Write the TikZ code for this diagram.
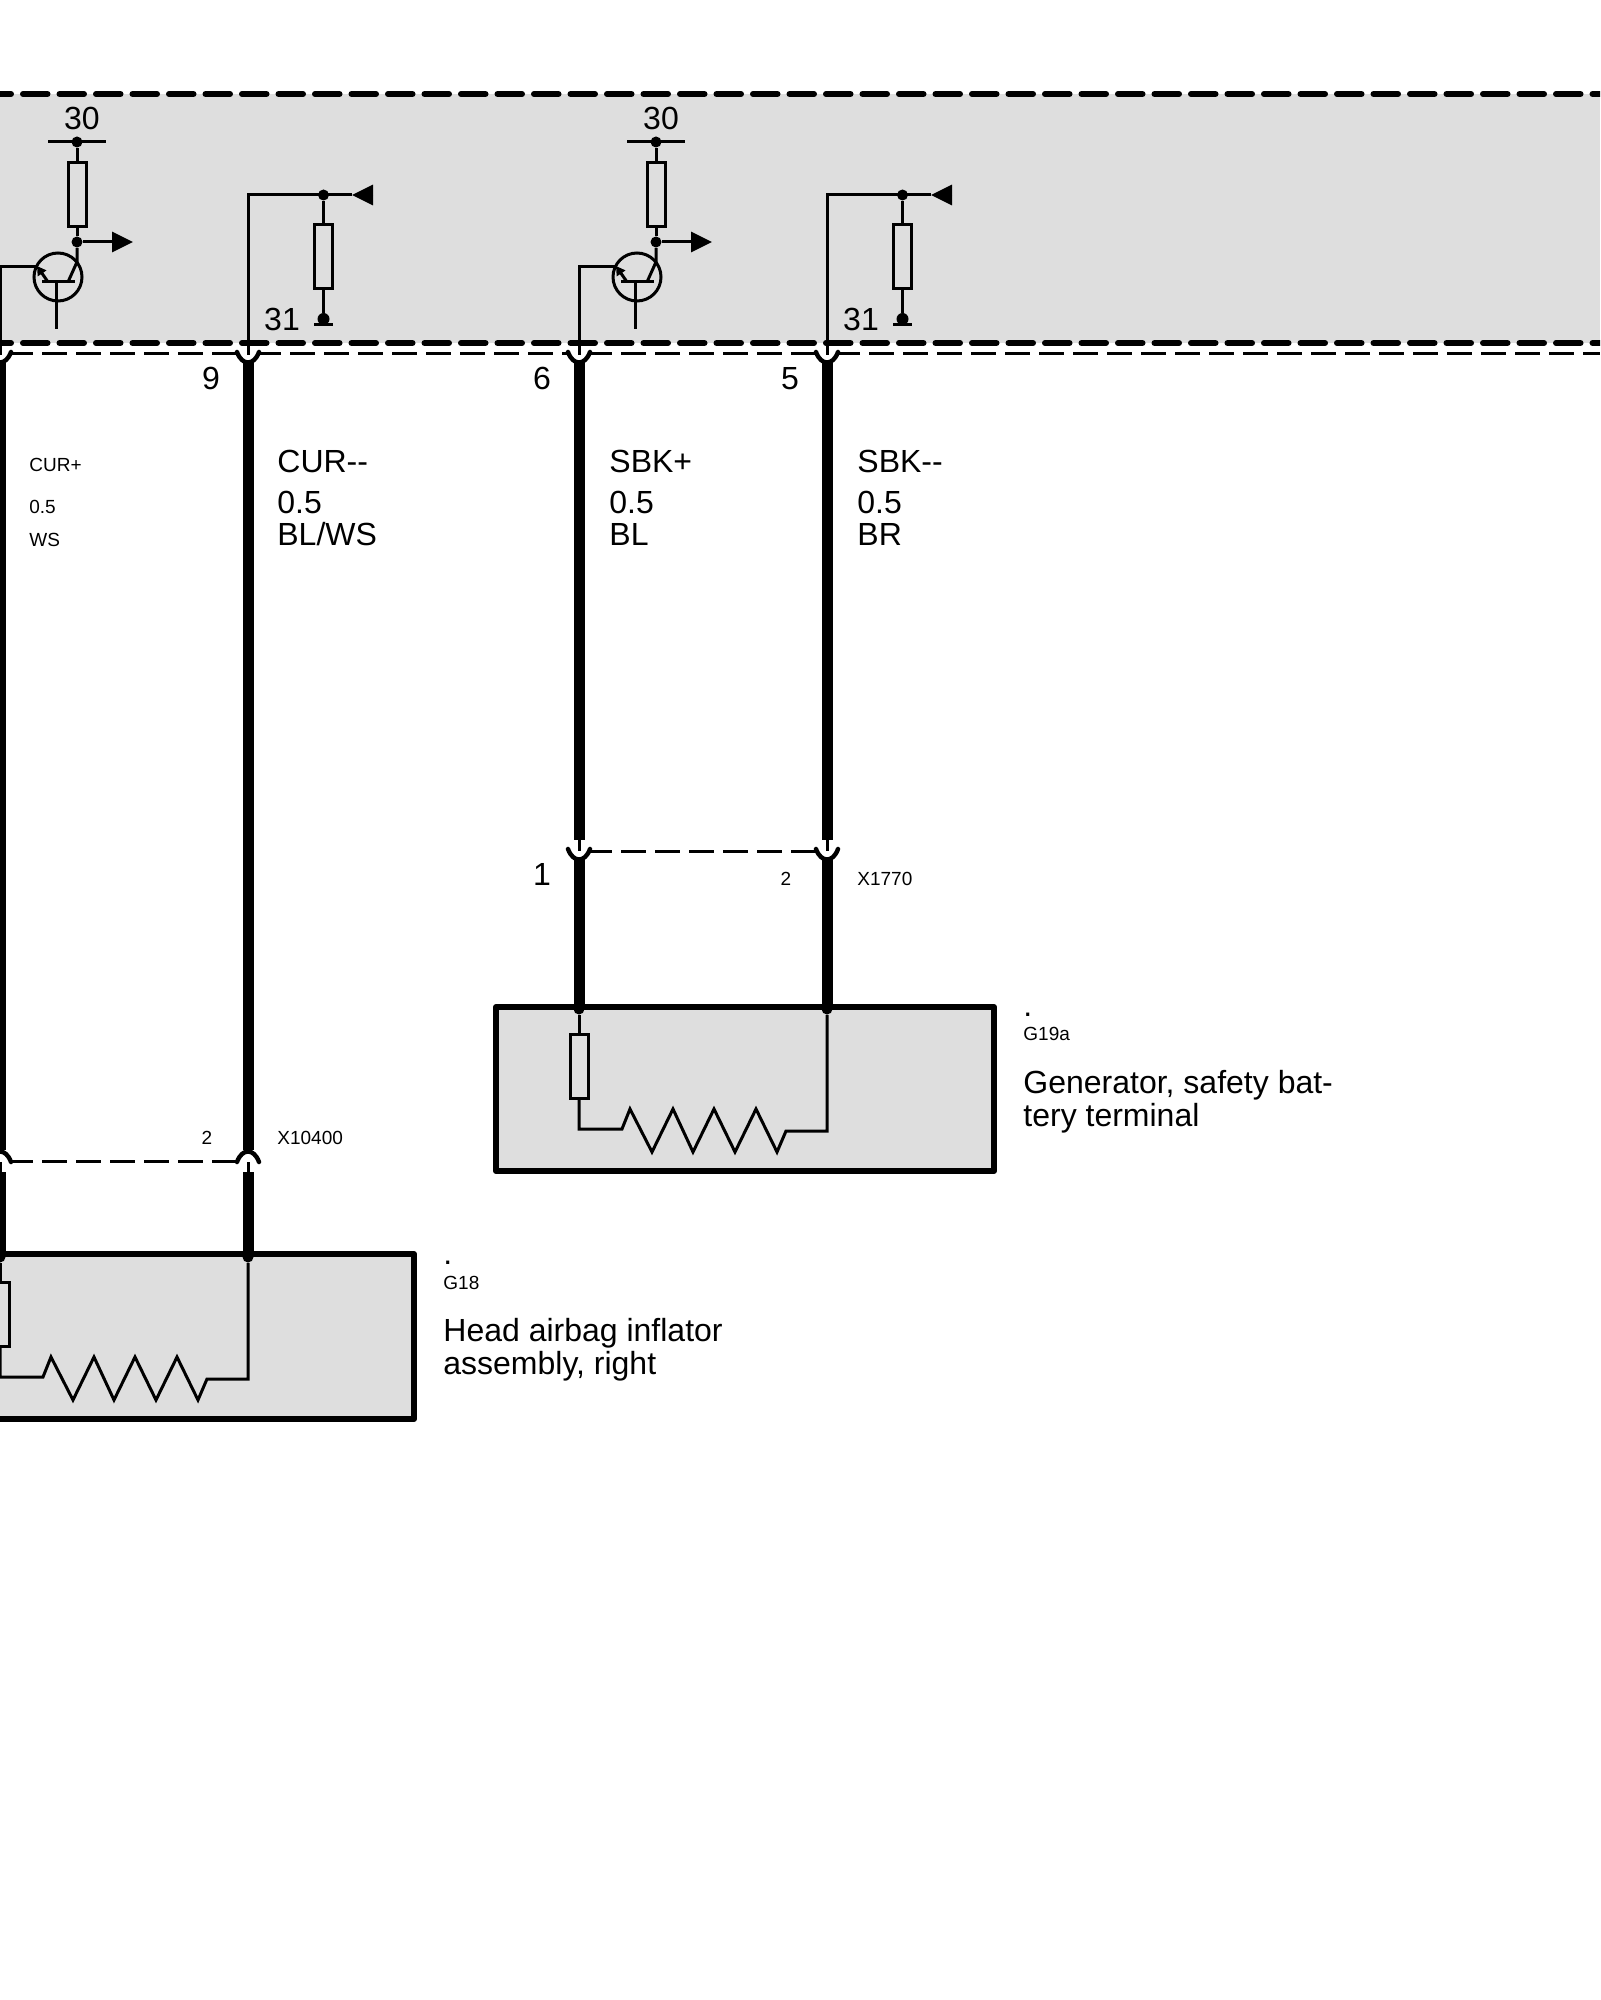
\documentclass[tikz,border=0pt]{standalone}
\usepackage{fontspec}
\setmainfont{Liberation Sans}
\usetikzlibrary{arrows.meta}
\definecolor{panelgray}{HTML}{DEDEDE}
\tikzset{
  wire/.style={line width=1.5pt,line join=miter},
  thickwire/.style={line width=5.5pt},
  pinarc/.style={line width=2.2pt,line cap=round},
  busline/.style={line width=3pt,line cap=round,dash pattern=on 12.25pt off 6pt,dash phase=6.75pt},
  plugline/.style={line width=1.5pt,dash pattern=on 12.5pt off 4.5pt,dash phase=2pt},
  devbox/.style={fill=panelgray,draw=black,line width=3pt,line join=round},
  res/.style={draw=black,fill=panelgray,line width=1.5pt,rectangle,inner sep=0pt,minimum width=9pt,minimum height=32pt},
  dot/.style={circle,fill=black,inner sep=0pt,minimum size=5.5pt},
  big/.style={font=\fontsize{16}{19}\selectfont,inner sep=0pt,anchor=base west},
  small/.style={font=\fontsize{9.5}{11}\selectfont,inner sep=0pt,anchor=base west},
  bignum/.style={font=\fontsize{16}{19}\selectfont,inner sep=0pt,anchor=base},
  smallnum/.style={font=\fontsize{9.5}{11}\selectfont,inner sep=0pt,anchor=base}
}
% transistor stage and pull-down, drawn twice
\newcommand{\ctrlstage}{
  \node[dot] (top) at (77,142) {};
  \node[res] (rup) at (77,195) {};
  \node[dot] (mid) at (77,242) {};
  \node[bignum] (plus) at (82,130) {30};
  \coordinate (barl) at (48,142);
  \coordinate (barr) at (106,142);
  \coordinate (outtip) at (133,242);
  \draw[wire] (barl) -- (barr);
  \draw[wire] (top) -- (rup);
  \draw[wire] (rup) -- (mid);
  \draw[wire,-{Triangle[length=10.5pt,width=10pt]}] (mid) -- (outtip);
  \node[circle,draw=black,line width=1.5pt,inner sep=0pt,minimum size=24pt] (trans) at (58,277) {};
  \coordinate (basel) at (42,282);
  \coordinate (baser) at (75,282);
  \coordinate (basem) at (56,282);
  \coordinate (baseo) at (56,329);
  \coordinate (coll) at (68,282);
  \coordinate (collk) at (77,262);
  \coordinate (emit) at (48,282);
  \coordinate (emtip) at (37,266);
  \coordinate (pinl) at (0,267);
  \coordinate (pinb) at (0,355);
  \draw[wire] (basel) -- (baser);
  \draw[wire] (basem) -- (baseo);
  \draw[wire] (coll) -- (collk) -- (mid);
  \draw[wire,-{Triangle[length=4.5pt,width=5pt]}] (emit) -- (emtip);
  \draw[wire] (pinb) -- (pinl) -- (36,267);
  \coordinate (wirb) at (248,355);
  \coordinate (wirk) at (248,195);
  \node[dot] (sense) at (323.5,195) {};
  \node[res] (rdown) at (323.5,257) {};
  \node[dot,minimum size=6pt] (gnd) at (323.5,319) {};
  \coordinate (gndl) at (314,325);
  \coordinate (gndr) at (333,325);
  \coordinate (intip) at (352,195);
  \coordinate (inend) at (373,195);
  \node[bignum] (minus) at (282,331) {31};
  \draw[wire] (wirb) -- (wirk) -- (intip);
  \draw[wire,-{Triangle[length=10.5pt,width=10pt]}] (inend) -- (intip);
  \draw[wire] (sense) -- (rdown);
  \draw[wire] (rdown) -- (gnd);
  \draw[wire] (gndl) -- (gndr);
}
% squib with its series resistor
\newcommand{\squib}{
  \coordinate (p) at (579,1007);
  \coordinate (q) at (827,1007);
  \node[dot] (pd) at (579,1009) {};
  \node[dot] (qd) at (827,1009) {};
  \node[res] (rs) at (579,1066) {};
  \coordinate (a) at (579,1129);
  \draw[wire] (pd) -- (rs);
  \draw[wire] (rs) -- (a) -- (622,1129) -- (630,1109) -- (652,1152) -- (673,1109) -- (693,1152)
    -- (714,1109) -- (735,1152) -- (756,1109) -- (777,1152) -- (786,1131) -- (827,1131) -- (qd);
}
\begin{document}
\begin{tikzpicture}[x=0.5pt,y=-0.5pt]
\useasboundingbox (0,0) rectangle (1600,2000);
\clip (0,0) rectangle (1600,2000);

\fill[panelgray] (0,94) rectangle (1600,343);
\coordinate (btl) at (0,94);
\coordinate (btr) at (1600,94);
\coordinate (bbl) at (0,343);
\coordinate (bbr) at (1600,343);

\begin{scope}[name prefix=a-]
\ctrlstage
\end{scope}
\begin{scope}[shift={(579,0)},name prefix=b-]
\ctrlstage
\end{scope}

\draw[busline] (btl) -- (btr);
\draw[busline] (bbl) -- (bbr);

% upper plug
\coordinate (u0) at (12,354);
\coordinate (u1) at (237,354);
\coordinate (u2) at (260,354);
\coordinate (u3) at (568,354);
\coordinate (u4) at (591,354);
\coordinate (u5) at (816,354);
\coordinate (u6) at (839,354);
\coordinate (u7) at (1600,354);
\draw[plugline] (u0) -- (u1);
\draw[plugline] (u2) -- (u3);
\draw[plugline] (u4) -- (u5);
\draw[plugline] (u6) -- (u7);
\foreach \n/\x in {a/0,b/248,c/579,d/827}{
  \coordinate (\n l) at (\x-11,352);
  \coordinate (\n r) at (\x+11,352);
  \coordinate (\n t) at (\x,362);
  \draw[pinarc] (\n l) .. controls +(5,14) and +(-5,14) .. (\n r);
}

% wires to the head airbag
\coordinate (ae) at (0,1150);
\coordinate (be) at (248,1150);
\draw[thickwire] (at) -- (ae);
\draw[thickwire] (bt) -- (be);
\coordinate (ce) at (579,840);
\coordinate (de) at (827,840);
\draw[thickwire] (ct) -- (ce);
\draw[thickwire] (dt) -- (de);

% lower plug X1770
\coordinate (cs) at (579,851);
\coordinate (ds) at (827,851);
\draw[wire] (ce) -- (cs);
\draw[wire] (de) -- (ds);
\coordinate (x0) at (591,851);
\coordinate (x1) at (817,851);
\draw[plugline] (x0) -- (x1);
\foreach \n/\x in {c/579,d/827}{
  \coordinate (\n ll) at (\x-11,849);
  \coordinate (\n rr) at (\x+11,849);
  \coordinate (\n k) at (\x,860);
  \coordinate (\n o) at (\x,1007);
  \draw[pinarc] (\n ll) .. controls +(5,14) and +(-5,14) .. (\n rr);
}

% lower plug X10400
\coordinate (as) at (0,1172);
\coordinate (bs) at (248,1172);
\coordinate (am) at (0,1162);
\coordinate (bm) at (248,1162);
\draw[wire] (am) -- (as);
\draw[wire] (bm) -- (bs);
\coordinate (y0) at (12,1161);
\coordinate (y1) at (237,1161);
\draw[plugline] (y0) -- (y1);
\foreach \n/\x in {a/0,b/248}{
  \coordinate (\n lll) at (\x-11,1162);
  \coordinate (\n rrr) at (\x+11,1162);
  \coordinate (\n o) at (\x,1254);
  \draw[pinarc] (\n lll) .. controls +(5,-14) and +(-5,-14) .. (\n rrr);
}

% devices
\draw[devbox] (496,1007) rectangle (994,1171);
\draw[devbox] (-100,1254) rectangle (414,1419);
\begin{scope}[name prefix=g-]
\squib
\end{scope}
\begin{scope}[shift={(-579,248)},name prefix=h-]
\squib
\end{scope}

\draw[thickwire] (ck) -- (co);
\draw[thickwire] (dk) -- (do);
\draw[thickwire] (as) -- (ao);
\draw[thickwire] (bs) -- (bo);

% texts
\node[small] (curp) at (29,472) {CUR+};
\node[small] (curps) at (29,513) {0.5};
\node[small] (curpc) at (29,546) {WS};
\node[big] (curm) at (277,473) {CUR-{}-};
\node[big] (curms) at (277,513) {0.5};
\node[big] (curmc) at (277,545) {BL/WS};
\node[big] (sbkp) at (609,473) {SBK+};
\node[big] (sbkps) at (609,513) {0.5};
\node[big] (sbkpc) at (609,545) {BL};
\node[big] (sbkm) at (857,473) {SBK-{}-};
\node[big] (sbkms) at (857,513) {0.5};
\node[big] (sbkmc) at (857,545) {BR};
\node[bignum] (pin9) at (211,390) {9};
\node[bignum] (pin6) at (542,390) {6};
\node[bignum] (pin5) at (790,390) {5};
\node[bignum] (pin1) at (542,885) {1};
\node[smallnum] (pin2) at (786,885) {2};
\node[small] (x1770) at (857,885) {X1770};
\node[smallnum] (pin2b) at (207,1144) {2};
\node[small] (x10400) at (277,1144) {X10400};
\node[big] (dota) at (1023,1016) {.};
\node[small] (g19a) at (1023,1040) {G19a};
\node[big] (gena) at (1023,1093) {Generator, safety bat-};
\node[big] (genb) at (1023,1126) {tery terminal};
\node[big] (dotb) at (443,1264) {.};
\node[small] (g18) at (443,1289) {G18};
\node[big] (heada) at (443,1341) {Head airbag inflator};
\node[big] (headb) at (443,1374) {assembly, right};
\end{tikzpicture}
\end{document}
